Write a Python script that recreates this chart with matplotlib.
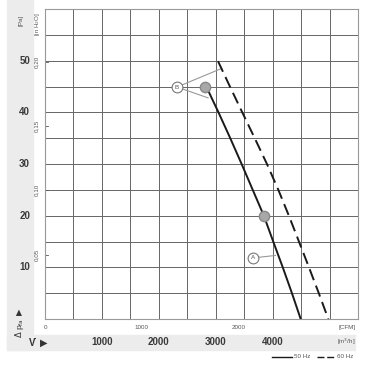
import numpy as np
import matplotlib
matplotlib.use("Agg")
import matplotlib.pyplot as plt
from matplotlib.patches import Rectangle

plt.rcParams['font.family'] = ['Liberation Sans', 'DejaVu Sans']

# Kennlinien (x in m3/h, y in Pa)
flow_50 = [2876, 3048, 3255, 3455, 3650, 3845, 4010, 4178, 4339, 4493]
dp_50 = [44.0, 40.0, 35.0, 30.0, 25.0, 20.0, 15.0, 10.0, 5.0, 0.0]
flow_60 = [3040, 3249, 3466, 3685, 3900, 4100, 4285, 4462, 4638, 4811, 4978]
dp_60 = [49.9, 45.0, 40.0, 35.0, 30.0, 25.0, 20.0, 15.0, 10.0, 5.0, 0.0]

# Betriebspunkte
op_flow = [2810, 3845]
op_dp = [44.9, 20.0]

pa_ticks = [10, 20, 30, 40, 50]
inh2o_ticks = [0.05, 0.10, 0.15, 0.20]
cfm_ticks = [0, 1000, 2000]
m3h_ticks = [1000, 2000, 3000, 4000]

W, H = 365, 367
fig = plt.figure(figsize=(W / 100, H / 100), dpi=100)

def fx(px):
    return px / W

def fy(py):
    return 1 - py / H

# grauer Hintergrund links und unten
fig.patches.append(Rectangle((fx(7), fy(350)), fx(26), fy(0) - fy(350),
                             transform=fig.transFigure, color='#ececec', zorder=-1))
fig.patches.append(Rectangle((fx(7), fy(350)), fx(348), fy(335) - fy(350),
                             transform=fig.transFigure, color='#ececec', zorder=-1))

ax = fig.add_axes([fx(45), fy(319), fx(358) - fx(45), fy(9) - fy(319)])
ax.set_xlim(0, 5500)
ax.set_ylim(0, 60)
ax.set_xticks(np.arange(0, 5501, 500))
ax.set_yticks(np.arange(0, 61, 5))
ax.grid(True, color='#666666', linewidth=0.7)
ax.tick_params(length=0, labelbottom=False, labelleft=False)
for s in ax.spines.values():
    s.set_color('#999999')
    s.set_linewidth(0.8)

ax.plot(flow_50, dp_50, color='#1a1a1a', lw=1.4, zorder=3)
ax.plot(flow_60, dp_60, color='#1a1a1a', lw=1.4, ls=(0, (6, 3)), zorder=3)
ax.scatter(op_flow, op_dp, s=55, color='#a8a8a8', edgecolor='#888888', zorder=4)

# Beschriftung B und A
ax.plot([2320, 3105], [44.9, 48.5], color='#999999', lw=0.8, zorder=2)
ax.plot([2320, 2865], [44.9, 42.8], color='#999999', lw=0.8, zorder=2)
ax.scatter([2320], [44.9], s=60, color='white', edgecolor='#777777', lw=0.8, zorder=5)
ax.text(2320, 44.9, 'B', fontsize=4.5, ha='center', va='center', color='#555555', zorder=6)

ax.plot([3720, 4050], [11.9, 12.3], color='#999999', lw=0.8, zorder=2)
ax.scatter([3650], [11.9], s=60, color='white', edgecolor='#777777', lw=0.8, zorder=5)
ax.text(3650, 11.9, 'A', fontsize=4.5, ha='center', va='center', color='#555555', zorder=6)

# y Achsen Beschriftung
ytr = ax.get_yaxis_transform()
for v in pa_ticks:
    ax.text(-0.065, v, str(v), transform=ytr, ha='center', va='center',
            fontsize=7, fontweight='bold', color='#3a3a3a', clip_on=False)
for v in inh2o_ticks:
    ax.text(-0.027, v * 249.09, f'{v:.2f}'.replace('.', ','), transform=ytr,
            rotation=90, ha='center', va='center', fontsize=4.5, color='#555555', clip_on=False)
    ax.plot([0, 0.008], [v * 249.09] * 2, transform=ytr, color='#555555', lw=0.6, clip_on=False)

fig.text(fx(21), fy(20), '[Pa]', rotation=90, ha='center', va='center', fontsize=4.5, color='#555555')
fig.text(fx(38), fy(24), '[in H$_2$O]', rotation=90, ha='center', va='center', fontsize=4.5, color='#555555')
fig.text(fx(20), fy(322), r'$\Delta$ p$_{\rm fa}$ $\blacktriangleright$', rotation=90, ha='center',
         va='center', fontsize=6, color='#333333')

# x Achsen Beschriftung
xtr = ax.get_xaxis_transform()
for v in cfm_ticks:
    ax.text(v * 1.699, -0.027, str(v), transform=xtr, ha='center', va='center',
            fontsize=4.5, color='#555555', clip_on=False)
ax.text(5300, -0.027, '[CFM]', transform=xtr, ha='center', va='center',
        fontsize=4.5, color='#555555', clip_on=False)
for v in m3h_ticks:
    ax.text(v, -0.075, str(v), transform=xtr, ha='center', va='center',
            fontsize=7, fontweight='bold', color='#3a3a3a', clip_on=False)
ax.text(5300, -0.075, '[m$^3$/h]', transform=xtr, ha='center', va='center',
        fontsize=4.5, color='#555555', clip_on=False)
fig.text(fx(38), fy(343), r'V̇ $\blacktriangleright$', ha='center', va='center',
         fontsize=7, fontweight='bold', color='#333333')

# Legende
fig.add_artist(plt.Line2D([fx(272), fx(292)], [fy(357), fy(357)], color='#1a1a1a', lw=1.0))
fig.text(fx(294), fy(357), '50 Hz', ha='left', va='center', fontsize=4.5, color='#555555')
fig.add_artist(plt.Line2D([fx(317), fx(335)], [fy(357), fy(357)], color='#1a1a1a', lw=1.0,
                          ls=(0, (5, 2))))
fig.text(fx(337), fy(357), '60 Hz', ha='left', va='center', fontsize=4.5, color='#555555')

fig.savefig('out.png', dpi=100)
